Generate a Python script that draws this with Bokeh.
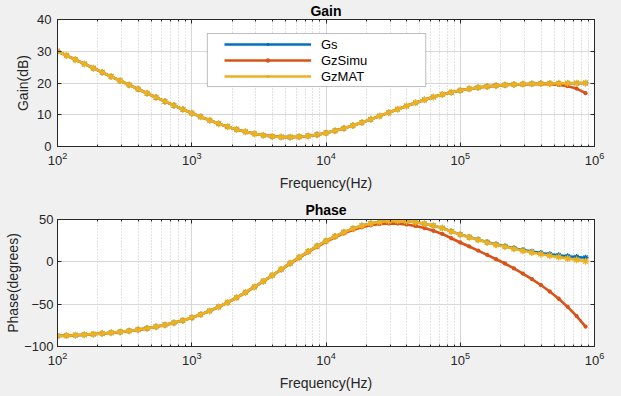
from bokeh.plotting import figure
from bokeh.models import (Range1d, FixedTicker, LinearAxis, LogAxis, Legend,
                          LegendItem, BoxAnnotation)
from bokeh.layouts import column
from bokeh.embed import file_html
from bokeh.resources import INLINE

# ---------------- data ----------------
freq = [100, 116.6, 135.9, 158.5, 184.8, 215.4, 251.2, 292.9, 341.5, 398.1,
        464.2, 541.2, 631.0, 735.6, 857.7, 1000, 1166, 1359, 1585, 1848,
        2154, 2512, 2929, 3415, 3981, 4642, 5412, 6310, 7356, 8577,
        10000, 11659, 13594, 15849, 18478, 21544, 25119, 29286, 34145, 39811,
        46416, 54117, 63096, 73564, 85770, 100000, 116591, 135936, 158489, 184785,
        215443, 251189, 292864, 341455, 398107, 464159, 541170, 630957, 735642, 857696]

gain_gs = [30.0, 28.67, 27.34, 26.01, 24.68, 23.36, 22.03, 20.71, 19.40, 18.08,
           16.78, 15.49, 14.21, 12.95, 11.71, 10.51, 9.35, 8.24, 7.20, 6.24,
           5.38, 4.63, 4.01, 3.52, 3.18, 2.98, 2.95, 3.06, 3.31, 3.72,
           4.27, 4.93, 5.71, 6.59, 7.54, 8.55, 9.60, 10.66, 11.72, 12.76,
           13.76, 14.70, 15.58, 16.37, 17.06, 17.66, 18.16, 18.57, 18.91, 19.17,
           19.37, 19.53, 19.65, 19.73, 19.82, 19.86, 19.89, 19.93, 19.95, 19.95]

gain_simu = [30.0, 28.67, 27.34, 26.01, 24.68, 23.36, 22.03, 20.71, 19.40, 18.08,
             16.78, 15.49, 14.21, 12.95, 11.71, 10.51, 9.35, 8.24, 7.20, 6.24,
             5.38, 4.63, 4.01, 3.52, 3.18, 2.98, 2.95, 3.06, 3.31, 3.72,
             4.27, 4.93, 5.71, 6.59, 7.54, 8.55, 9.60, 10.66, 11.72, 12.76,
             13.76, 14.70, 15.58, 16.37, 17.06, 17.66, 18.16, 18.57, 18.91, 19.17,
             19.37, 19.51, 19.61, 19.65, 19.67, 19.59, 19.39, 19.01, 18.25, 16.80]

gain_mat = [30.0, 28.67, 27.34, 26.01, 24.68, 23.36, 22.03, 20.71, 19.40, 18.08,
            16.78, 15.49, 14.21, 12.95, 11.71, 10.51, 9.35, 8.24, 7.20, 6.24,
            5.38, 4.63, 4.01, 3.52, 3.18, 2.98, 2.95, 3.06, 3.31, 3.72,
            4.27, 4.93, 5.71, 6.59, 7.54, 8.55, 9.60, 10.66, 11.72, 12.76,
            13.76, 14.70, 15.58, 16.37, 17.06, 17.66, 18.16, 18.57, 18.91, 19.17,
            19.37, 19.53, 19.65, 19.73, 19.82, 19.85, 19.89, 19.92, 19.96, 19.99]

phase_gs = [-87.52, -87.11, -86.63, -86.08, -85.42, -84.66, -83.78, -82.76, -81.57, -80.18,
            -78.56, -76.69, -74.53, -72.04, -69.18, -65.90, -62.16, -57.94, -53.22, -48.00,
            -42.29, -36.15, -29.62, -22.81, -15.81, -8.71, -1.61, 5.37, 12.15, 18.60,
            24.63, 30.12, 35.00, 39.18, 42.60, 45.24, 47.09, 48.14, 48.42, 47.95,
            46.81, 45.03, 42.70, 39.95, 36.00, 32.30, 29.20, 26.20, 23.30, 20.60,
            18.43, 16.05, 13.91, 12.03, 10.38, 8.95, 7.70, 6.62, 5.69, 4.89]

phase_simu = [-87.53, -87.12, -86.64, -86.09, -85.44, -84.68, -83.80, -82.79, -81.60, -80.22,
              -78.60, -76.74, -74.59, -72.11, -69.26, -65.99, -62.27, -58.07, -53.37, -48.18,
              -42.49, -36.39, -29.90, -23.13, -16.19, -9.15, -2.12, 4.77, 11.45, 17.79,
              23.68, 29.01, 33.71, 37.68, 40.85, 43.20, 44.71, 45.36, 45.18, 44.18,
              42.41, 39.90, 36.72, 32.98, 27.87, 22.82, 18.15, 13.31, 8.28, 3.08,
              -1.99, -7.76, -13.85, -20.34, -27.36, -35.05, -43.60, -53.19, -64.05, -76.42]

phase_mat = [-87.52, -87.11, -86.63, -86.08, -85.42, -84.66, -83.78, -82.76, -81.57, -80.18,
             -78.56, -76.69, -74.53, -72.04, -69.18, -65.90, -62.16, -57.94, -53.22, -48.00,
             -42.29, -36.15, -29.62, -22.81, -15.81, -8.71, -1.61, 5.37, 12.15, 18.60,
             24.63, 30.12, 35.00, 39.18, 42.60, 45.24, 47.09, 48.14, 48.42, 47.95,
             46.81, 45.03, 42.70, 39.85, 35.87, 32.13, 28.99, 25.94, 22.97, 20.18,
             17.90, 15.38, 13.07, 10.98, 9.05, 7.28, 5.60, 3.97, 2.35, 0.69]

series_names = ["Gs", "GzSimu", "GzMAT"]
x_major = [1e2, 1e3, 1e4, 1e5, 1e6]
gain_ticks = [0, 10, 20, 30, 40]
phase_ticks = [-100, -50, 0, 50]

# ---------------- styles ----------------
BLUE, RED, YEL = "#0072BD", "#D95319", "#EDB120"
FONT = "Liberation Sans"
AX = "#262626"
BG = "#f0f0f0"
x_minor = [m * 10 ** d for d in range(2, 6) for m in range(2, 10)]


def style_axis(ax, hide_labels=False):
    ax.axis_line_color = AX
    ax.major_tick_line_color = AX
    ax.minor_tick_line_color = AX
    ax.major_tick_in = 4
    ax.major_tick_out = 0
    ax.minor_tick_in = 2
    ax.minor_tick_out = 0
    ax.major_label_text_font = FONT
    ax.major_label_text_font_size = "13px"
    ax.major_label_text_color = AX
    ax.axis_label_text_font = FONT
    ax.axis_label_text_font_size = "14px"
    ax.axis_label_text_font_style = "normal"
    ax.axis_label_text_color = AX
    if hide_labels:
        ax.major_label_text_font_size = "1px"
        ax.major_label_text_alpha = 0
        ax.major_label_standoff = 0


def make_fig(b_top, b_bottom, yr, yticks, ylabel, title, t_standoff,
             xl_standoff, yt_standoff, yl_standoff):
    p = figure(frame_width=537, frame_height=127, x_axis_type="log",
               x_range=Range1d(100, 1e6), y_range=Range1d(*yr),
               output_backend="svg", toolbar_location=None,
               min_border_left=57, min_border_right=27,
               min_border_top=b_top, min_border_bottom=b_bottom,
               background_fill_color="white", border_fill_color=BG,
               outline_line_color=AX, outline_line_width=1)
    p.title.text = title
    p.title.align = "center"
    p.title.text_font = FONT
    p.title.text_font_size = "14px"
    p.title.text_font_style = "bold"
    p.title.text_color = "black"
    p.title.standoff = t_standoff
    p.xaxis.ticker = FixedTicker(ticks=x_major, minor_ticks=x_minor)
    p.yaxis.ticker = FixedTicker(ticks=yticks, minor_ticks=[])
    p.xaxis.axis_label = "Frequency(Hz)"
    p.yaxis.axis_label = ylabel
    for ax in p.xaxis + p.yaxis:
        style_axis(ax)
    p.xaxis.major_label_standoff = 5
    p.xaxis.axis_label_standoff = xl_standoff
    p.yaxis.major_label_standoff = yt_standoff
    p.yaxis.axis_label_standoff = yl_standoff
    ra = LinearAxis(ticker=FixedTicker(ticks=yticks, minor_ticks=[]))
    style_axis(ra, hide_labels=True)
    p.add_layout(ra, "right")
    aa = LogAxis(ticker=FixedTicker(ticks=x_major, minor_ticks=x_minor))
    style_axis(aa, hide_labels=True)
    p.add_layout(aa, "above")
    p.xgrid.grid_line_color = "#d8d8d8"
    p.xgrid.minor_grid_line_color = "#c4c4c4"
    p.xgrid.minor_grid_line_dash = "1 2"
    p.ygrid.grid_line_color = "#d8d8d8"
    return p


def draw(p, ys):
    specs = [(BLUE, "asterisk", 6), (RED, "circle", 3), (YEL, "asterisk", 7)]
    out = []
    for y, (c, mk, sz) in zip(ys, specs):
        ln = p.line(freq, y, line_color=c, line_width=2.6)
        sc = p.scatter(freq, y, marker=mk, size=sz, line_color=c, fill_color=c,
                       line_width=1.3)
        out.append((ln, sc))
    return out


# ---------------- Gain ----------------
p1 = make_fig(19, 50, (0, 40), gain_ticks, "Gain(dB)", "Gain", 1, 7, 6, 3)
rs = draw(p1, [gain_gs, gain_simu, gain_mat])
p1.add_layout(BoxAnnotation(left=1306, right=55330, bottom=18.88, top=35.58,
                            fill_color="white", fill_alpha=1.0,
                            line_color=AX, line_width=1))
leg = Legend(items=[LegendItem(label=n, renderers=list(r))
                    for n, r in zip(series_names, rs)],
             location=(167, 62), margin=0, padding=0, spacing=0,
             glyph_width=87, glyph_height=8, label_height=16,
             label_standoff=10, border_line_alpha=0,
             background_fill_alpha=0, label_text_font=FONT,
             label_text_font_size="13px", label_text_color="black")
p1.add_layout(leg, "center")

# ---------------- Phase ----------------
p2 = make_fig(23, 50, (-100, 50), phase_ticks, "Phase(degrees)", "Phase", 4, 7, 4, 0)
draw(p2, [phase_gs, phase_simu, phase_mat])

layout = column(p1, p2, spacing=0)

html = file_html(layout, INLINE, title="Gain / Phase")
html = html.replace("<head>", "<head><style>html,body{background:#f0f0f0;}</style>", 1)
open("out.html", "w").write(html)
